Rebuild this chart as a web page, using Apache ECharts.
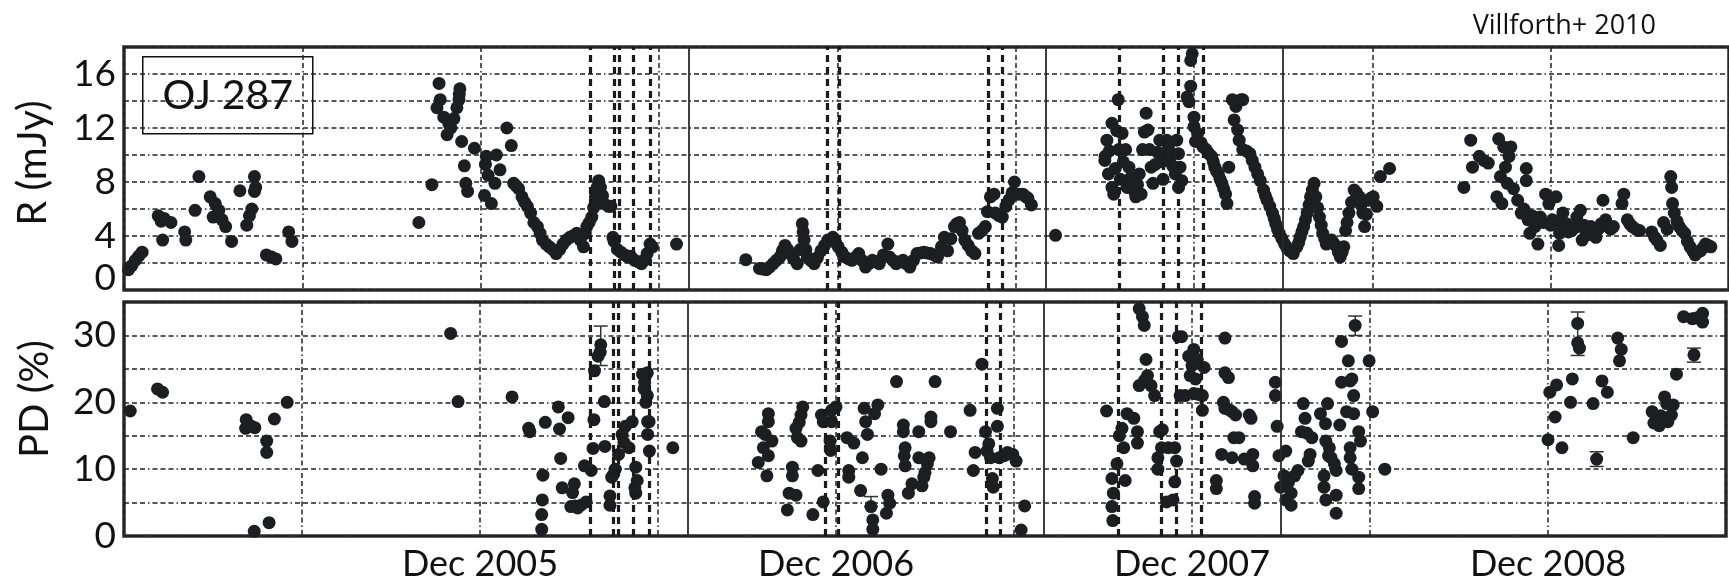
<!DOCTYPE html>
<html>
<head>
<meta charset="utf-8">
<script src="https://cdn.jsdelivr.net/npm/echarts@6/dist/echarts.min.js"></script>
<style>
  html, body { margin: 0; padding: 0; background: #fff; }
  #DataChart { width: 1729px; height: 582px; }
</style>
</head>
<body>
<div id="DataChart"></div>
<script>
// x: months since Dec 2004, R flux in mJy
var rSeason1 = [[0.15,1.5],[0.26,1.8],[0.38,2.2],[0.49,2.5],[0.61,2.8],[1.15,5.5],[1.3,3.7],[1.35,5.3],[1.58,5.0],[1.25,5.1],
  [2.04,4.3],[2.08,3.7],[2.39,5.9],[2.52,8.4],[2.9,6.9],[3.0,5.4],[3.07,6.4],[3.19,5.9],[3.3,5.2],[3.42,4.7],[3.62,3.6],
  [3.9,7.35],[4.13,4.8],[4.22,5.5],[4.3,6.0],[4.39,8.4],[4.43,7.6],[4.39,7.3],[4.79,2.6],[4.96,2.45],[5.11,2.3],[5.54,4.3],[5.65,3.6]];
var rSeason2 = [[9.92,5.0],[10.36,7.8],[10.6,15.3],[10.64,14.1],[10.53,13.5],[10.76,12.8],[10.93,12.3],[11.1,12.7],[11.2,13.5],[11.27,14.1],
  [11.3,14.9],[11.28,14.5],[10.87,11.5],[11.0,12.0],[11.36,11.0],[11.45,9.2],[11.5,7.9],[11.56,7.3],[11.79,10.5],
  [12.19,9.9],[12.16,9.3],[12.25,8.5],[12.48,7.9],[12.13,7.0],[12.36,6.4],[12.53,10.0],[12.65,8.9],[12.88,12.0],[13.03,10.7],
  [13.11,7.9],[13.2,7.7],[13.28,7.5],[13.39,6.9],[13.48,6.5],[13.57,6.2],[13.68,5.7],[13.79,5.0],[13.91,4.7],[14.0,4.2],[14.08,3.7],
  [14.2,3.4],[14.31,3.2],[14.42,3.0],[14.54,2.7],[14.66,3.0],[14.77,3.4],[14.88,3.7],[15.0,3.9],[15.1,4.0],[15.23,4.2],[15.35,3.7],
  [15.46,3.2],[15.52,4.2],[15.57,4.7],[15.65,5.0],[15.74,5.4],[15.8,6.1],[15.86,6.9],[15.92,7.6],[15.97,8.1],[16.03,7.6],[16.1,7.0],
  [16.15,6.4],[16.3,6.2],[16.38,6.2],[16.45,3.9],[16.49,3.6],[16.6,3.0],[16.72,2.8],[16.85,2.6],[16.95,2.45],[17.05,2.5],[17.18,2.2],
  [17.3,2.1],[17.41,1.95],[17.5,2.2],[17.6,2.7],[17.7,3.4],[17.78,3.2],[18.59,3.4]];
var rSeason3 = [[20.92,2.25],[21.38,1.6],[21.5,1.55],[21.61,1.5],[21.72,1.7],[21.84,1.95],[21.95,2.2],[22.07,2.45],[22.15,2.9],[22.24,3.3],
  [22.33,3.0],[22.42,2.7],[22.53,2.3],[22.65,1.95],[22.75,3.0],[22.82,4.9],[22.85,4.3],[22.88,3.7],[22.94,3.0],[22.99,2.45],[23.1,2.2],
  [23.22,1.95],[23.33,2.4],[23.45,2.9],[23.57,3.3],[23.68,3.7],[23.85,3.9],[23.95,3.5],[24.03,3.2],[24.15,2.8],[24.26,2.45],[24.38,2.3],
  [24.49,2.2],[24.6,2.4],[24.72,2.7],[24.83,2.2],[24.95,1.7],[25.06,1.95],[25.18,2.2],[25.3,2.1],[25.41,1.95],[25.55,2.6],[25.7,3.4],
  [25.75,2.45],[25.87,2.2],[25.98,1.95],[26.1,2.1],[26.21,2.2],[26.32,1.95],[26.44,1.7],[26.56,2.2],[26.68,2.7],[26.8,2.75],[26.91,2.8],
  [27.02,2.75],[27.14,2.7],[27.25,2.6],[27.37,2.45],[27.5,3.2],[27.6,3.9],[27.71,2.9],[27.82,3.8],[27.94,4.7],[28.02,4.9],[28.11,5.0],
  [28.2,4.4],[28.29,3.7],[28.4,3.3],[28.52,2.9],[28.63,2.7],[28.75,4.2],[28.87,4.4],[28.98,4.7],[29.05,5.8],[29.15,6.9],[29.27,7.1],
  [29.32,5.7],[29.44,5.5],[29.55,5.4],[29.67,6.2],[29.78,6.7],[29.88,7.2],[29.96,8.0],[30.01,7.1],[30.12,7.1],[30.24,7.1],[30.35,6.9],
  [30.41,6.8],[30.53,6.3]];
var rSeason4 = [[31.34,4.05],[33.0,9.6],[33.01,9.9],[33.07,11.1],[33.12,8.6],[33.15,10.3],[33.24,12.35],[33.24,7.6],[33.3,7.1],[33.35,9.0],
  [33.4,11.8],[33.45,14.1],[33.47,10.4],[33.52,8.2],[33.58,11.6],[33.62,9.5],[33.7,10.4],[33.75,7.6],[33.81,9.1],[33.87,8.3],[33.93,7.9],
  [34.0,7.3],[34.04,6.9],[34.1,7.8],[34.16,8.6],[34.22,7.1],[34.27,10.4],[34.33,11.7],[34.39,13.1],[34.45,11.85],[34.5,10.4],[34.56,9.1],
  [34.62,7.9],[34.7,9.3],[34.78,10.2],[34.85,11.1],[34.92,9.5],[34.96,8.2],[35.02,9.7],[35.08,11.1],[35.14,10.5],[35.2,9.9],[35.28,9.2],
  [35.37,8.6],[35.42,11.1],[35.48,7.6],[35.48,10.1],[35.53,9.1],[35.59,8.1],[35.77,14.3],[35.83,13.95],[35.89,15.1],[35.89,17.0],
  [35.94,17.5],[36.0,12.8],[36.0,12.1],[36.05,11.0],[36.12,11.6],[36.24,10.9],[36.3,10.6],[36.41,10.4],[36.5,10.1],[36.59,9.9],
  [36.65,9.5],[36.7,9.1],[36.76,8.8],[36.82,8.6],[36.88,8.2],[36.94,7.9],[37.0,7.5],[37.06,7.1],[37.11,6.4],[37.17,9.1],[37.29,14.1],
  [37.35,12.6],[37.41,13.6],[37.47,11.85],[37.52,11.1],[37.58,14.1],[37.64,14.1],[37.64,10.4],[37.76,10.3],[37.88,10.1],[37.96,9.6],
  [38.05,9.1],[38.14,8.6],[38.23,8.1],[38.34,7.4],[38.4,7.0],[38.46,6.65],[38.55,6.2],[38.64,5.7],[38.7,5.3],[38.75,4.9],[38.81,4.5],
  [38.87,4.2],[38.96,3.8],[39.05,3.4],[39.13,3.1],[39.22,2.9],[39.34,2.7],[39.46,3.2],[39.52,3.5],[39.57,3.9],[39.63,4.3],[39.69,4.7],
  [39.75,5.2],[39.81,5.7],[39.87,6.3],[39.92,6.9],[39.98,7.4],[40.04,7.9],[40.1,6.9],[40.16,6.1],[40.22,5.4],[40.28,4.8],[40.33,4.2],
  [40.4,3.8],[40.45,3.4],[40.55,3.6],[40.63,3.7],[40.72,3.4],[40.8,3.2],[40.86,2.8],[40.92,2.45],[40.98,2.8],[41.04,3.2],[41.1,4.4],
  [41.15,5.0],[41.21,5.7],[41.3,6.5],[41.39,7.4],[41.47,7.2],[41.56,6.9],[41.62,6.3],[41.68,5.7],[41.74,4.7],[41.8,5.6],[41.86,6.65],
  [41.95,6.8],[42.03,6.9],[42.15,6.2],[42.27,8.4],[42.58,9.0]];
var rSeason5 = [[45.08,7.6],[45.31,11.1],[45.37,9.1],[45.6,9.9],[45.75,9.6],[45.9,9.4],[46.19,6.9],[46.25,11.2],[46.31,8.4],[46.36,6.4],
  [46.42,10.6],[46.48,9.1],[46.54,7.9],[46.6,9.9],[46.66,10.6],[46.75,7.5],[46.89,6.65],[47.01,5.7],[47.1,6.0],[47.18,9.0],[47.18,8.1],
  [47.24,5.2],[47.3,4.2],[47.38,5.5],[47.47,4.7],[47.57,3.4],[47.65,5.4],[47.75,5.0],[47.83,7.1],[47.94,6.4],[48.0,4.8],[48.06,5.2],
  [48.18,6.9],[48.27,3.3],[48.3,4.2],[48.35,5.0],[48.41,5.7],[48.53,4.9],[48.6,4.3],[48.7,4.4],[48.8,4.6],[48.88,5.4],[49.0,5.9],
  [49.06,3.7],[49.12,4.8],[49.17,4.4],[49.26,4.1],[49.35,4.7],[49.44,4.4],[49.52,3.9],[49.6,4.5],[49.7,4.9],[49.76,6.65],[49.85,5.2],
  [49.93,4.7],[50.02,4.5],[50.11,4.7],[50.4,6.4],[50.46,7.1],[50.58,5.2],[50.66,4.9],[50.75,4.7],[50.87,4.5],[50.99,4.4],[51.4,4.3],
  [51.5,3.9],[51.57,3.7],[51.69,3.3],[51.8,5.0],[51.92,4.5],[52.04,8.4],[52.07,7.6],[52.1,6.4],[52.16,5.7],[52.25,5.1],[52.33,4.7],
  [52.42,4.4],[52.51,4.2],[52.6,3.6],[52.69,3.2],[52.78,2.9],[52.86,2.6],[52.95,2.8],[53.04,2.9],[53.12,3.1],[53.21,3.4],[53.3,3.3],[53.39,3.2]];

// x: months since Dec 2004, polarization degree in %
var pdSeason1 = [[0.21,18.7],[1.13,22.0],[1.3,21.5],[4.1,16.1],[4.12,17.4],[4.3,16.4],[4.41,16.2],[4.81,14.2],[4.81,12.5],[5.07,17.5],
  [5.5,20.0],[4.39,0.7],[4.89,2.0]];
var pdSeason2 = [[11.01,30.3],[11.26,20.1],[13.08,20.8],[13.64,16.1],[13.68,15.6],[14.2,17.0],[14.64,19.3],[14.97,17.7],[14.68,16.0],
  [14.72,11.6],[14.12,9.1],[14.1,5.4],[14.08,3.2],[14.08,1.0],[14.77,7.2],[15.18,7.8],[15.12,6.5],[15.06,4.4],[15.2,4.5],[15.29,4.2],
  [15.4,4.6],[15.58,5.1],[15.52,10.5],[15.75,9.8],[15.81,13.1],[15.84,17.4],[15.86,24.7],[15.98,26.9],[16.07,28.6],[16.05,27.5],
  [16.19,20.1],[16.21,13.4],[16.38,6.0],[16.38,4.6],[16.44,8.8],[16.56,10.0],[16.5,9.2],[16.67,12.2],[16.79,15.2],[16.85,14.0],
  [16.9,16.4],[17.02,13.2],[17.13,17.1],[17.25,10.3],[17.3,8.3],[17.25,6.4],[17.22,7.2],[17.48,24.2],[17.53,22.0],[17.59,20.0],
  [17.65,17.1],[17.65,15.2],[17.71,12.7],[17.64,24.4],[17.64,21.0],[17.55,23.0],[17.7,17.1],[18.5,13.2]];
var pdSeason3 = [[21.38,11.0],[21.67,9.0],[21.55,13.2],[21.61,15.2],[21.72,17.1],[21.72,18.3],[21.49,15.6],[21.84,14.2],[21.72,12.0],
  [22.42,6.4],[22.65,6.1],[22.36,3.9],[22.53,10.3],[22.53,9.0],[22.65,16.1],[22.7,14.7],[22.82,18.1],[22.88,19.3],[22.82,14.2],[22.76,17.0],
  [23.22,3.2],[23.39,9.8],[23.51,18.1],[23.57,5.1],[23.57,17.1],[23.85,18.8],[23.85,17.1],[23.8,14.2],[24.0,19.3],[23.82,12.8],
  [24.37,14.7],[24.6,13.9],[24.89,11.7],[24.43,9.8],[24.43,8.8],[24.83,6.8],[24.95,19.1],[25.0,17.1],[25.06,15.2],[25.41,19.6],[25.3,18.3],
  [25.18,4.4],[25.24,2.4],[25.24,1.0],[25.52,10.0],[25.75,6.1],[25.81,4.9],[25.7,3.4],[26.04,23.1],[26.27,16.6],[26.27,15.6],[26.33,13.2],
  [26.33,10.5],[26.44,6.4],[26.56,7.8],[26.3,12.0],[26.79,15.6],[26.79,11.7],[26.96,8.8],[27.08,10.8],[27.14,11.7],[27.2,17.1],[27.2,17.8],
  [27.34,23.1],[26.9,7.5],[27.0,9.5],[27.86,15.6],[28.52,18.8],[28.63,9.8],[28.69,12.5],[28.92,25.7],[29.04,15.6],[29.09,12.7],[29.21,11.7],
  [29.27,8.6],[29.44,19.1],[29.44,16.4],[29.5,11.7],[29.67,12.0],[29.78,12.5],[29.96,12.2],[30.07,11.2],[30.36,4.5],[30.24,0.9],[29.15,13.8],[29.3,7.3]];
var pdSeason4 = [[33.12,18.7],[33.47,10.8],[33.3,8.6],[33.35,6.4],[33.3,4.4],[33.33,2.3],[33.64,16.1],[33.75,8.3],[33.81,18.3],[34.04,17.6],
  [34.16,15.6],[34.16,13.9],[33.7,13.2],[33.55,15.0],[34.22,34.0],[34.33,32.8],[34.39,31.5],[34.45,26.4],[34.5,24.0],[34.62,22.5],
  [34.22,22.5],[34.74,21.0],[34.4,23.3],[34.91,15.6],[35.0,15.9],[34.85,11.7],[34.97,13.2],[35.2,13.2],[35.14,5.1],[34.85,10.0],
  [35.54,29.8],[35.6,21.0],[35.65,29.8],[35.89,26.9],[36.06,27.9],[36.18,26.4],[35.94,24.0],[36.12,23.5],[36.41,25.2],[35.77,21.0],
  [36.06,21.3],[36.35,21.0],[36.35,18.8],[36.0,25.5],[36.2,21.2],[35.42,13.2],[35.48,11.2],[35.42,8.1],[35.36,5.4],[37.11,29.6],
  [37.11,24.4],[37.23,23.7],[37.06,20.0],[37.11,19.1],[37.35,18.6],[37.47,18.1],[37.93,18.1],[37.99,17.6],[37.41,14.7],[37.58,14.7],
  [37.0,12.2],[37.35,11.7],[37.76,11.5],[38.05,12.2],[38.05,10.5],[36.82,8.3],[36.82,7.1],[38.11,5.9],[38.11,4.9],[37.25,18.9],
  [38.81,23.0],[38.81,21.0],[38.87,16.4],[38.93,12.0],[38.99,7.3],[39.16,12.7],[39.16,5.4],[39.34,6.4],[39.34,4.6],[39.46,9.0],
  [39.57,9.8],[39.75,19.8],[39.81,17.6],[39.87,15.4],[39.92,11.2],[39.98,12.2],[40.04,14.7],[39.69,15.6],[39.1,9.0],[39.25,8.0],
  [40.33,18.3],[40.57,19.8],[40.51,14.2],[40.63,13.2],[40.69,11.7],[40.8,10.8],[40.86,9.8],[40.45,9.0],[40.45,7.3],[40.51,5.4],
  [40.86,6.1],[40.86,3.4],[40.98,16.6],[41.04,29.1],[40.5,16.8],[40.6,12.0],[41.21,18.6],[41.33,13.2],[41.33,11.7],[41.39,10.0],
  [41.45,18.3],[41.45,21.0],[41.27,26.2],[41.04,23.0],[41.33,23.2],[41.39,23.5],[41.5,31.5],[41.62,15.6],[41.68,14.2],[41.62,8.8],
  [41.62,7.1],[41.97,26.2],[42.09,18.6],[42.5,10.0]];
var pdSeason5 = [[48.06,21.5],[48.29,22.6],[48.0,14.4],[48.24,17.8],[48.47,13.2],[48.76,20.0],[48.82,23.5],[49.0,31.8],[49.0,28.9],
  [49.06,28.1],[49.52,19.8],[49.64,11.5],[49.82,23.2],[50.0,21.5],[50.35,29.6],[50.47,27.9],[50.41,26.2],[50.87,14.7],[51.51,18.6],
  [51.57,16.9],[51.69,17.6],[51.93,20.8],[52.04,17.1],[52.22,19.6],[52.16,18.1],[52.33,24.2],[52.92,27.1],[52.57,32.8],[52.86,32.5],
  [53.21,33.3],[53.21,32.0],[51.75,16.5],[52.0,19.8],[51.8,18.0],[53.0,32.6]];
// [month, low, high]
var pdErrors = [[16.07,25.5,31.4],[41.5,30.0,32.9],[49.0,27.0,33.5],[49.64,10.4,12.6],[52.92,26.0,28.1],[25.18,4.4,5.9]];

var flareLines = [15.7, 16.5, 16.65, 17.15, 17.72, 23.65, 24.08, 29.07, 29.55, 33.5, 34.96, 35.48, 36.3];
var seasonLines = [19, 31, 39];

var decTicks = [12, 24, 36, 48];
var decLabels = ['Dec 2005', 'Dec 2006', 'Dec 2007', 'Dec 2008'];
var rTickLabels = [0, 4, 8, 12, 16];
var pdTickLabels = [0, 10, 20, 30];

var FONT = 'Lato';
var INK = '#1d1e22';
var dashDot = [5, 3, 5, 3, 5, 3, 1.5, 3];

function vLines() {
    var d = [];
    flareLines.forEach(function (v) {
        d.push({ xAxis: v, lineStyle: { color: '#1a1a1a', width: 3.2, type: [7, 5] } });
    });
    seasonLines.forEach(function (v) {
        d.push({ xAxis: v, lineStyle: { color: '#2a2a2a', width: 1.8, type: 'solid' } });
    });
    return {
        silent: true,
        symbol: 'none',
        label: { show: false },
        data: d
    };
}

var myChart = echarts.init(document.getElementById('DataChart'));

var gridLine = { show: true, lineStyle: { color: '#222', width: 1.5, type: dashDot } };

var xCommon = {
    type: 'value',
    min: 0,
    max: 54,
    interval: 6,
    axisLine: { show: false },
    axisTick: { show: false },
    splitLine: gridLine
};

var option = {
    backgroundColor: '#fff',
    animation: false,
    title: {
        text: 'Villforth+ 2010',
        right: 68,
        top: 8,
        textStyle: { fontFamily: 'Open Sans', fontSize: 27, fontWeight: 'normal', color: '#111' }
    },
    graphic: [
        {
            type: 'group',
            left: 142,
            top: 56,
            z: 100,
            children: [
                { type: 'rect', shape: { x: 0, y: 0, width: 170, height: 77 },
                  style: { fill: '#fff', stroke: '#111', lineWidth: 1.5 } },
                { type: 'text', x: 85, y: 39,
                  style: { text: 'OJ 287', font: '41px Lato', fill: '#111', align: 'center', verticalAlign: 'middle' } }
            ]
        },
        { type: 'text', x: 33, y: 163, rotation: Math.PI / 2, z: 100,
          style: { text: 'R (mJy)', font: '40px Lato', fill: '#111', align: 'center', verticalAlign: 'middle' } },
        { type: 'text', x: 35, y: 399, rotation: Math.PI / 2, z: 100,
          style: { text: 'PD (%)', font: '40px Lato', fill: '#111', align: 'center', verticalAlign: 'middle' } }
    ],
    grid: [
        { left: 124, right: -10, top: 47, height: 243, show: true, borderColor: '#2b2b2b', borderWidth: 3.5, backgroundColor: '#fff' },
        { left: 124, right: -10, top: 302, height: 237, show: true, borderColor: '#2b2b2b', borderWidth: 3.5, backgroundColor: '#fff' }
    ],
    xAxis: [
        Object.assign({ gridIndex: 0, axisLabel: { show: false } }, xCommon),
        Object.assign({
            gridIndex: 1,
            axisLabel: {
                show: true,
                margin: 10,
                fontFamily: FONT,
                fontSize: 36,
                color: '#111',
                formatter: function (v) {
                    var i = decTicks.indexOf(v);
                    return i >= 0 ? decLabels[i] : '';
                }
            }
        }, xCommon)
    ],
    yAxis: [
        {
            gridIndex: 0,
            type: 'value',
            min: 0,
            max: 18,
            interval: 2,
            axisLine: { show: false },
            axisTick: { show: false },
            axisLabel: {
                margin: 8,
                fontFamily: FONT,
                fontSize: 37,
                color: '#111',
                formatter: function (v) {
                    if (rTickLabels.indexOf(v) < 0) return '';
                    return v === 0 ? '{z|0}' : String(v);
                },
                rich: { z: { fontFamily: FONT, fontSize: 37, color: '#111', padding: [0, 0, 24, 0] } }
            },
            splitLine: gridLine
        },
        {
            gridIndex: 1,
            type: 'value',
            min: 0,
            max: 35,
            interval: 5,
            axisLine: { show: false },
            axisTick: { show: false },
            axisLabel: {
                margin: 8,
                fontFamily: FONT,
                fontSize: 37,
                color: '#111',
                formatter: function (v) {
                    return pdTickLabels.indexOf(v) >= 0 ? String(v) : '';
                }
            },
            splitLine: gridLine
        }
    ],
    series: [
        {
            name: 'R',
            type: 'scatter',
            xAxisIndex: 0,
            yAxisIndex: 0,
            symbolSize: 13,
            itemStyle: { color: INK, opacity: 1 },
            data: [].concat(rSeason1, rSeason2, rSeason3, rSeason4, rSeason5),
            markLine: vLines()
        },
        {
            name: 'PD err',
            type: 'custom',
            xAxisIndex: 1,
            yAxisIndex: 1,
            encode: { x: 0, y: [1, 2] },
            data: pdErrors,
            renderItem: function (params, api) {
                var lo = api.coord([api.value(0), api.value(1)]);
                var hi = api.coord([api.value(0), api.value(2)]);
                var st = { stroke: '#333', lineWidth: 1.5 };
                return {
                    type: 'group',
                    children: [
                        { type: 'line', shape: { x1: lo[0], y1: lo[1], x2: hi[0], y2: hi[1] }, style: st },
                        { type: 'line', shape: { x1: hi[0] - 7, y1: hi[1], x2: hi[0] + 7, y2: hi[1] }, style: st },
                        { type: 'line', shape: { x1: lo[0] - 7, y1: lo[1], x2: lo[0] + 7, y2: lo[1] }, style: st }
                    ]
                };
            }
        },
        {
            name: 'PD',
            type: 'scatter',
            xAxisIndex: 1,
            yAxisIndex: 1,
            symbolSize: 13,
            itemStyle: { color: INK, opacity: 1 },
            data: [].concat(pdSeason1, pdSeason2, pdSeason3, pdSeason4, pdSeason5),
            markLine: vLines()
        }
    ]
};

myChart.setOption(option);
</script>
</body>
</html>
